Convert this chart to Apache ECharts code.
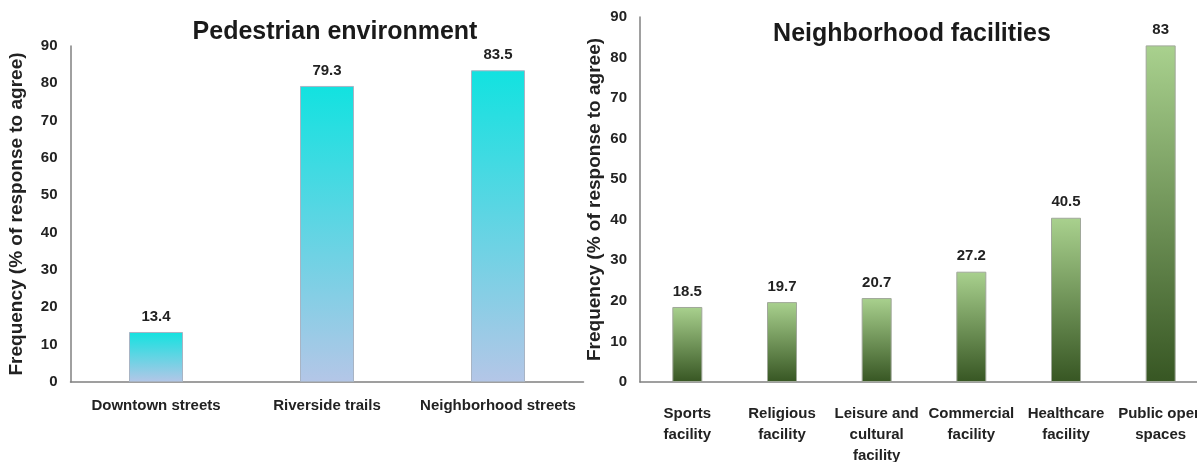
<!DOCTYPE html>
<html lang="en">
<head>
    <meta charset="UTF-8">
    <title>Pedestrian environment and neighborhood facilities</title>
    <script src="https://cdn.jsdelivr.net/npm/echarts@6/dist/echarts.min.js"></script>
    <style type="text/css">
        html, body{ margin:0; padding:0; background:#fff; }
        #main{ width:1197px; height:462px; }
    </style>
</head>
<body>
<div id="main"></div>
<script type="application/javascript">
    // data
    var pedCategories = ['Downtown streets', 'Riverside trails', 'Neighborhood streets'];
    var pedValues = [13.4, 79.3, 83.5];
    var facCategories = ['Sports\nfacility', 'Religious\nfacility', 'Leisure and\ncultural\nfacility',
        'Commercial\nfacility', 'Healthcare\nfacility', 'Public open\nspaces'];
    var facValues = [18.5, 19.7, 20.7, 27.2, 40.5, 83];
    var yTicks = [0, 10, 20, 30, 40, 50, 60, 70, 80, 90];

    var font = '"Liberation Sans", Arial, sans-serif';

    function grad(top, bottom) {
        return new echarts.graphic.LinearGradient(0, 0, 0, 1, [
            { offset: 0, color: top },
            { offset: 1, color: bottom }
        ]);
    }

    function yAxis(gridIndex, gap) {
        return {
            type: 'value',
            gridIndex: gridIndex,
            min: yTicks[0],
            max: yTicks[yTicks.length - 1],
            interval: 10,
            name: 'Frequency (% of response to agree)',
            nameLocation: 'middle',
            nameGap: gap,
            nameTextStyle: { fontFamily: font, fontWeight: 'bold', fontSize: 19, color: '#222' },
            axisLine: { show: true, lineStyle: { color: '#808080', width: 1.5 } },
            axisTick: { show: false },
            splitLine: { show: false },
            axisLabel: { fontFamily: font, fontWeight: 'bold', fontSize: 15, color: '#222', margin: 13 }
        };
    }

    function xAxis(gridIndex, data, margin) {
        return {
            type: 'category',
            gridIndex: gridIndex,
            data: data,
            axisLine: { lineStyle: { color: '#808080', width: 1.5 } },
            axisTick: { show: false },
            axisLabel: {
                fontFamily: font, fontWeight: 'bold', fontSize: 15, color: '#222',
                margin: margin, lineHeight: 21, interval: 0
            }
        };
    }

    var valueLabel = {
        show: true,
        position: 'top',
        distance: 8,
        fontFamily: font,
        fontWeight: 'bold',
        fontSize: 15,
        color: '#222'
    };

    var myChart = echarts.init(document.getElementById('main'));

    myChart.setOption({
        animation: false,
        title: [
            {
                text: 'Pedestrian environment', left: 330, top: 15, textAlign: 'center',
                textStyle: { fontFamily: font, fontWeight: 'bold', fontSize: 25, color: '#1a1a1a' }
            },
            {
                text: 'Neighborhood facilities', left: 907, top: 17, textAlign: 'center',
                textStyle: { fontFamily: font, fontWeight: 'bold', fontSize: 25, color: '#1a1a1a' }
            }
        ],
        grid: [
            { left: 70.5, top: 46, width: 513, height: 336, outerBoundsMode: 'none' },
            { left: 640, top: 17, width: 568, height: 365, outerBoundsMode: 'none' }
        ],
        xAxis: [
            xAxis(0, pedCategories, 13),
            xAxis(1, facCategories, 21)
        ],
        yAxis: [
            yAxis(0, 44),
            yAxis(1, 36)
        ],
        series: [
            {
                type: 'bar',
                xAxisIndex: 0,
                yAxisIndex: 0,
                data: pedValues,
                barWidth: 54,
                itemStyle: { color: grad('#12e2e0', '#b4c6e7'), borderColor: '#a8b4c4', borderWidth: 1 },
                label: valueLabel
            },
            {
                type: 'bar',
                xAxisIndex: 1,
                yAxisIndex: 1,
                data: facValues,
                barWidth: 30,
                itemStyle: { color: grad('#a9d18e', '#375623'), borderColor: '#a0a89a', borderWidth: 1 },
                label: valueLabel
            }
        ]
    });
</script>
</body>
</html>
